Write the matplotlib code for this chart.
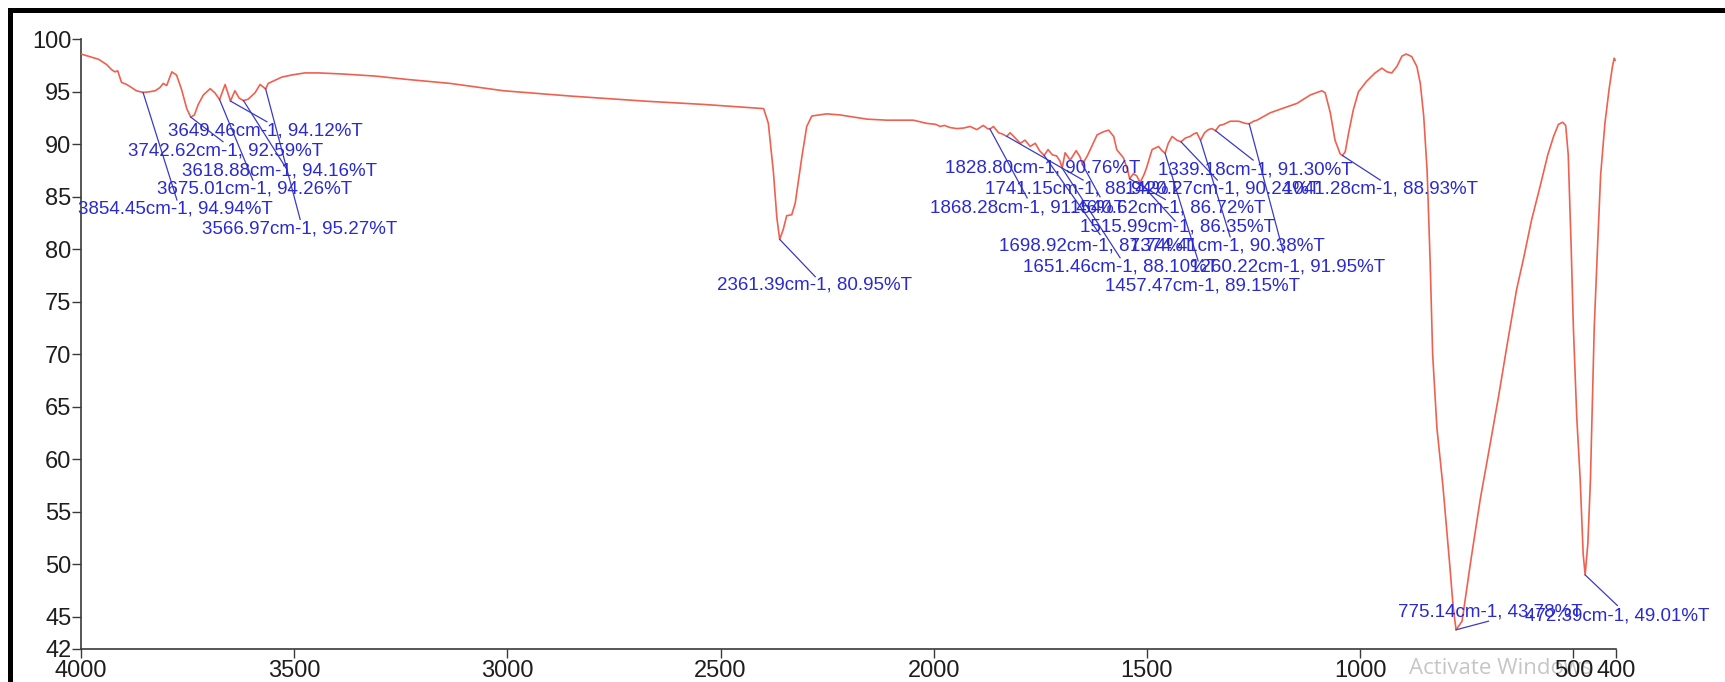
import matplotlib
matplotlib.use("Agg")
import matplotlib.pyplot as plt
from matplotlib.patches import Rectangle

plt.rcParams['font.family'] = ['Liberation Sans', 'DejaVu Sans']

# FTIR spectrum: wavenumber (cm-1) against transmittance (%T)
wavenumber = [
    4000, 3975, 3959, 3940, 3928, 3920, 3914, 3905, 3893, 3885, 3870, 3854.45,
    3840, 3826, 3815, 3807, 3799, 3787, 3776, 3764, 3752, 3742.62, 3734, 3725,
    3713, 3697, 3686, 3675.01, 3662, 3649.46, 3639, 3629, 3618.88, 3608, 3592,
    3580, 3566.97, 3561, 3545, 3529, 3506, 3475, 3443, 3388, 3310, 3240, 3134,
    3009, 2853, 2673, 2540, 2454, 2399, 2388, 2376, 2368, 2361.39, 2353, 2345,
    2333, 2325, 2309, 2298, 2286, 2251, 2220, 2157, 2110, 2048, 2017, 1995,
    1985, 1975, 1962, 1946, 1930, 1915, 1899, 1884, 1874, 1868.28, 1860, 1848,
    1840, 1828.80, 1821, 1809, 1797, 1786, 1774, 1762, 1752, 1741.15, 1732,
    1722, 1712, 1704, 1698.92, 1692, 1680, 1666, 1657, 1651.46, 1640, 1633,
    1617, 1602, 1590, 1578, 1571, 1555, 1545, 1540.62, 1532, 1524, 1515.99,
    1506, 1500, 1488, 1473, 1465, 1457.47, 1450, 1441, 1430, 1420.27, 1410,
    1399, 1390, 1383, 1374.41, 1365, 1356, 1348, 1339.18, 1330, 1320, 1305,
    1285, 1270, 1260.22, 1250, 1242, 1211, 1180, 1148, 1117, 1090, 1082, 1070,
    1059, 1047, 1041.28, 1035, 1027, 1016, 1004, 985, 965, 949, 937, 926, 914,
    902, 892, 879, 867, 859, 851, 843, 836, 830, 820, 806, 790, 782, 775.14,
    761, 740, 718, 695, 675, 655, 633, 617, 598, 578, 560, 546, 535, 525, 518,
    512, 505, 500, 492, 484, 477, 472.39, 466, 460, 451, 443, 436, 426, 416,
    408, 404, 402,
]
transmittance = [
    98.6, 98.3, 98.1, 97.6, 97.1, 96.9, 97.0, 95.9, 95.7, 95.5, 95.1, 94.94,
    95.0, 95.1, 95.4, 95.8, 95.6, 96.9, 96.6, 95.2, 93.4, 92.59, 92.8, 93.8,
    94.7, 95.3, 94.9, 94.26, 95.7, 94.12, 95.1, 94.4, 94.16, 94.3, 94.9,
    95.7, 95.27, 95.8, 96.1, 96.4, 96.6, 96.8, 96.8, 96.7, 96.5, 96.2, 95.8,
    95.1, 94.6, 94.1, 93.8, 93.55, 93.4, 92.0, 87.3, 83.0, 80.95, 81.9, 83.2,
    83.3, 84.4, 88.9, 91.7, 92.7, 92.9, 92.8, 92.4, 92.3, 92.3, 92.0, 91.9,
    91.7, 91.8, 91.6, 91.5, 91.55, 91.7, 91.4, 91.8, 91.5, 91.46, 91.7, 91.1,
    91.0, 90.76, 91.1, 90.6, 90.1, 90.4, 89.8, 90.1, 89.4, 88.94, 89.5,
    89.0, 88.9, 88.4, 87.74, 89.2, 88.5, 89.4, 88.8, 88.10, 88.9, 89.5,
    90.9, 91.2, 91.35, 90.75, 89.5, 88.7, 87.5, 86.72, 87.2, 87.0, 86.35,
    87.2, 87.9, 89.5, 89.8, 89.4, 89.15, 90.1, 90.75, 90.4, 90.24, 90.6,
    90.75, 91.0, 91.1, 90.38, 91.1, 91.4, 91.5, 91.30, 91.8, 91.9, 92.2,
    92.2, 92.0, 91.95, 92.2, 92.3, 93.0, 93.45, 93.9, 94.7, 95.1, 94.9, 93.0,
    90.4, 89.1, 88.93, 89.3, 91.1, 93.3, 95.0, 96.0, 96.8, 97.25, 96.9, 96.8,
    97.4, 98.4, 98.6, 98.35, 97.4, 95.8, 92.7, 87.5, 79.0, 70.0, 63.0, 57.5,
    50.0, 46.0, 43.78, 44.6, 50.5, 56.3, 61.5, 66.1, 71.0, 76.2, 79.1, 82.8,
    86.0, 89.0, 90.8, 91.9, 92.1, 91.8, 89.0, 80.0, 72.6, 64.0, 58.1, 51.0,
    49.01, 52.0, 58.0, 72.6, 80.5, 87.1, 92.0, 95.3, 97.5, 98.2, 98.0,
]

# picked peaks (wavenumber, %T)
peak_wn = [3649.46, 3742.62, 3618.88, 3675.01, 3854.45, 3566.97, 2361.39,
           1828.80, 1741.15, 1868.28, 1515.99, 1698.92, 1651.46, 1457.47,
           1339.18, 1420.27, 1041.28, 1540.62, 1374.41, 1260.22, 775.14, 472.39]
peak_t = [94.12, 92.59, 94.16, 94.26, 94.94, 95.27, 80.95,
          90.76, 88.94, 91.46, 86.35, 87.74, 88.10, 89.15,
          91.30, 90.24, 88.93, 86.72, 90.38, 91.95, 43.78, 49.01]

# where each peak label sits (left edge, middle) and where its leader line ends
label_pos = [(3796, 91.3), (3890, 89.4), (3763, 87.5), (3822, 85.7), (4007, 83.8),
             (3716, 81.9), (2508, 76.6), (1973, 87.7), (1879, 85.7), (2008, 83.9),
             (1657, 82.1), (1847, 80.3), (1790, 78.3), (1598, 76.5), (1474, 87.6),
             (1551, 85.7), (1180, 85.7), (1680, 83.9), (1539, 80.3), (1398, 78.3),
             (911, 45.5), (613, 45.1)]
leader_end = [(3564, 92.15), (3667, 90.25), (3517, 87.6), (3597, 86.6), (3775, 84.7),
              (3486, 82.85), (2278, 77.4), (1650, 86.6), (1610, 81.4), (1781, 84.9),
              (1434, 82.7), (1563, 79.2), (1610, 85.0), (1380, 78.9), (1251, 88.5),
              (1335, 86.6), (953, 86.6), (1457, 84.75), (1305, 81.2), (1180, 79.7),
              (699, 44.6), (397, 46.1)]

W, H = 1725, 682
fig = plt.figure(figsize=(W / 100, H / 100), dpi=100)
ax = fig.add_axes([81 / W, 33.5 / H, (1616 - 81) / W, (648.5 - 39.3) / H])
ax.set_facecolor('none')

ax.plot(wavenumber, transmittance, color='#f0604f', lw=1.2, zorder=3)

for (pw, pt), (tx, ty), (ex, ey) in zip(zip(peak_wn, peak_t), label_pos, leader_end):
    ax.plot([pw, ex], [pt, ey], color='#3b3bc4', lw=0.9, clip_on=False, zorder=4)
    ax.text(tx, ty, f"{pw:.2f}cm-1, {pt:.2f}%T", fontsize=13.5, color='#2a2ad0',
            ha='left', va='center', clip_on=False, zorder=5)

ax.set_xlim(4000, 400)
ax.set_ylim(42, 100)
ax.set_xticks([4000, 3500, 3000, 2500, 2000, 1500, 1000, 500, 400])
ax.set_yticks([42, 45, 50, 55, 60, 65, 70, 75, 80, 85, 90, 95, 100])

for side in ['top', 'right']:
    ax.spines[side].set_visible(False)
for side in ['left', 'bottom']:
    ax.spines[side].set_color('#3a3a3a')
    ax.spines[side].set_linewidth(1.2)

ax.tick_params(axis='both', labelsize=17, length=6.5, width=1.0, color='#3a3a3a',
               labelcolor='#1e1e1e', direction='out')
ax.tick_params(axis='y', pad=0.5)
ax.tick_params(axis='x', pad=1.5)

# screenshot frame and watermark
fig.add_artist(Rectangle((8 / W, 1 - 13 / H), 1, 5 / H, transform=fig.transFigure,
                         color='black', lw=0))
fig.add_artist(Rectangle((8 / W, 0), 5 / W, 1 - 8 / H, transform=fig.transFigure,
                         color='black', lw=0))
fig.text(1409 / W, 13 / H, 'Activate Windows', fontsize=16, color='#c6c6c6',
         family=['Open Sans', 'DejaVu Sans'], ha='left', va='center', zorder=-1)

fig.savefig('out.png', dpi=100)
